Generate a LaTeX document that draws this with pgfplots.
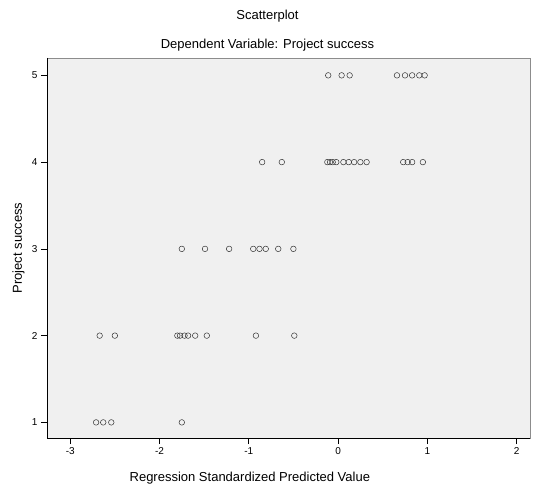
\documentclass[border=0pt]{standalone}
\usepackage{pgfplots}
\pgfplotsset{compat=1.18}
\usepackage{fontspec}
\setmainfont{Liberation Sans}
\usetikzlibrary{calc}
\definecolor{bg}{RGB}{240,240,240}
\begin{document}
\begin{tikzpicture}
\begin{axis}[
  name=ax,
  scale only axis,
  width=483pt, height=380pt,
  xmin=-3.26, xmax=2.15,
  ymin=0.82, ymax=5.2,
  xtick={-3,-2,-1,0,1,2},
  ytick={1,2,3,4,5},
  xtick pos=bottom, ytick pos=left,
  tick align=outside,
  major tick length=6pt,
  tick style={black, line width=0.6pt},
  axis line style={black!45, line width=0.6pt},
  axis background/.style={fill=bg},
  /pgf/number format/assume math mode=true,
  ticklabel style={font=\fontsize{10}{11}\selectfont},
  xlabel={Regression Standardized Predicted Value},
  ylabel={Project success},
  label style={font=\fontsize{13}{15}\selectfont},
  xlabel style={at={(axis description cs:0.42,0)}, anchor=north, yshift=-31pt},
  ylabel style={at={(axis description cs:0,0.5)}, anchor=south, xshift=0pt, yshift=19pt},
  clip=false,
]
\draw[black, line width=0.8pt] (rel axis cs:0,1) -- (rel axis cs:0,0) -- (rel axis cs:1,0);
\addplot[only marks, mark=o, mark size=2.8pt, mark options={black!80, line width=0.5pt}] coordinates {
(-0.11,5) (0.04,5) (0.13,5) (0.66,5) (0.75,5) (0.83,5) (0.91,5) (0.97,5)
(-0.85,4) (-0.63,4) (-0.12,4) (-0.09,4) (-0.06,4) (-0.02,4) (0.06,4) (0.12,4) (0.18,4) (0.25,4) (0.32,4) (0.73,4) (0.78,4) (0.83,4) (0.95,4)
(-1.75,3) (-1.49,3) (-1.22,3) (-0.95,3) (-0.88,3) (-0.81,3) (-0.67,3) (-0.50,3)
(-2.67,2) (-2.50,2) (-1.80,2) (-1.77,2) (-1.72,2) (-1.68,2) (-1.60,2) (-1.47,2) (-0.92,2) (-0.49,2)
(-2.71,1) (-2.63,1) (-2.54,1) (-1.75,1)
};
\end{axis}
\node[font=\fontsize{13}{15}\selectfont] at ($(ax.north)+(-21pt,42pt)$) {Scatterplot};
\node[font=\fontsize{13}{15}\selectfont] at ($(ax.north)+(-21pt,13pt)$) {Dependent Variable: Project success};
\pgfresetboundingbox
\path ($(ax.south west)+(-47pt,-56pt)$) rectangle ($(ax.north east)+(6pt,58pt)$);
\end{tikzpicture}
\end{document}
